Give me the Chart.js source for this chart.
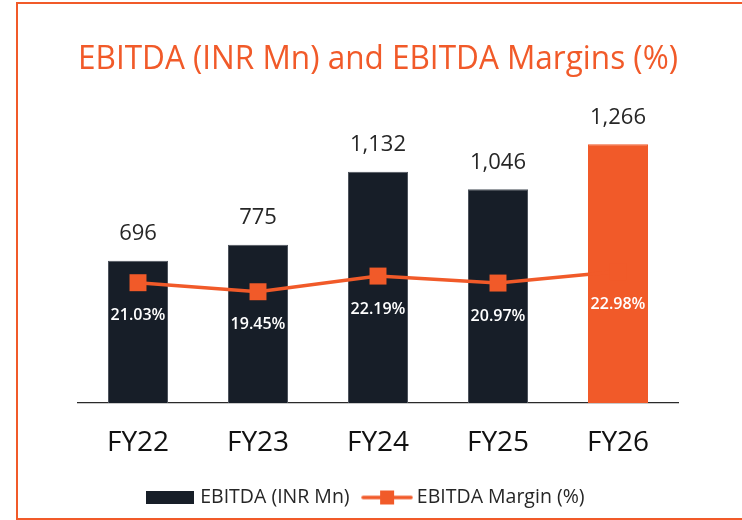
<!DOCTYPE html>
<html>
<head>
<meta charset="utf-8">
<script src="https://cdn.jsdelivr.net/npm/chart.js@4.4.1/dist/chart.umd.min.js"></script>
<style>
    html, body { margin: 0; padding: 0; background: #fff; overflow: hidden; }
    #wrap { position: relative; width: 742px; height: 520px; }
    #frame {
        position: absolute; left: 16px; top: 2px; width: 760px; height: 518px;
        box-sizing: border-box; border: 2px solid #F15A29; border-right: none;
        pointer-events: none;
    }
</style>
</head>
<body>
<div id="wrap">
    <canvas id="ebitdaChart"></canvas>
    <div id="frame"></div>
</div>
<script>
const years = ['FY22', 'FY23', 'FY24', 'FY25', 'FY26'];
const ebitda = [696, 775, 1132, 1046, 1266];
const margins = [21.03, 19.45, 22.19, 20.97, 22.98];

const NAVY = '#171E28';
const ORANGE = '#F15A29';
const barColors = years.map((y, i) => i === years.length - 1 ? ORANGE : NAVY);
const barBorders = years.map((y, i) => i === years.length - 1 ? ORANGE : '#4d535c');

Chart.defaults.font.family = "'Open Sans', sans-serif";
Chart.defaults.color = '#262626';

// small canvases used as legend symbols
function barSymbol() {
    const c = document.createElement('canvas');
    c.width = 48; c.height = 13;
    const g = c.getContext('2d');
    g.fillStyle = NAVY;
    g.fillRect(0, 0, 48, 13);
    return c;
}

function lineSymbol() {
    const c = document.createElement('canvas');
    c.width = 52; c.height = 16;
    const g = c.getContext('2d');
    g.strokeStyle = ORANGE;
    g.lineWidth = 3.5;
    g.lineCap = 'round';
    g.beginPath();
    g.moveTo(2, 8);
    g.lineTo(50, 8);
    g.stroke();
    g.fillStyle = ORANGE;
    g.fillRect(19, 1, 14, 14);
    return c;
}

const valueLabels = {
    id: 'valueLabels',
    afterDatasetsDraw(chart) {
        const ctx = chart.ctx;
        ctx.save();
        ctx.textAlign = 'center';
        ctx.textBaseline = 'middle';

        // EBITDA values above the bars
        ctx.font = "22px 'Open Sans'";
        ctx.fillStyle = '#262626';
        chart.getDatasetMeta(0).data.forEach((bar, i) => {
            ctx.fillText(ebitda[i].toLocaleString('en-US'), bar.x, bar.y - 27);
        });

        // margin percentages under the markers
        ctx.font = "600 16px 'Open Sans'";
        ctx.fillStyle = '#ffffff';
        chart.getDatasetMeta(1).data.forEach((pt, i) => {
            ctx.fillText(margins[i].toFixed(2) + '%', pt.x, pt.y + 33);
        });
        ctx.restore();
    }
};

const ctx = document.getElementById('ebitdaChart').getContext('2d');
new Chart(ctx, {
    type: 'bar',
    data: {
        labels: years,
        datasets: [{
            label: 'EBITDA (INR Mn)',
            data: ebitda,
            backgroundColor: barColors,
            borderColor: barBorders,
            borderWidth: 1,
            categoryPercentage: 1,
            barPercentage: 0.5,
            yAxisID: 'y',
            order: 1
        }, {
            type: 'line',
            label: 'EBITDA Margin (%)',
            data: margins,
            borderColor: ORANGE,
            backgroundColor: ORANGE,
            borderWidth: 3.5,
            tension: 0,
            pointStyle: 'rect',
            pointRadius: 12,
            pointHoverRadius: 12,
            pointBorderWidth: 0,
            yAxisID: 'y2',
            order: 0
        }]
    },
    options: {
        responsive: true,
        maintainAspectRatio: false,
        animation: false,
        layout: {
            padding: { left: 10, right: 17, top: 0, bottom: 2.75 }
        },
        scales: {
            x: {
                grid: { display: false, drawTicks: false },
                border: { display: true, color: '#2a2a2a', width: 1.2 },
                ticks: {
                    padding: 23,
                    color: '#111',
                    font: { size: 28 }
                },
                afterFit: (axis) => { axis.height = 67.25; }
            },
            y: {
                min: 0,
                max: 1400,
                grid: { display: false },
                border: { display: false },
                ticks: { display: false },
                afterFit: (axis) => { axis.width = 68; }
            },
            y2: {
                position: 'right',
                min: 0,
                max: 50,
                grid: { display: false },
                border: { display: false },
                ticks: { display: false },
                afterFit: (axis) => { axis.width = 47; }
            }
        },
        plugins: {
            title: {
                display: true,
                text: 'EBITDA (INR Mn) and EBITDA Margins (%)',
                color: ORANGE,
                fullSize: false,
                font: { size: 32, weight: 'normal' },
                padding: { top: 41, bottom: 37.6 }
            },
            legend: {
                position: 'bottom',
                labels: {
                    usePointStyle: true,
                    pointStyleWidth: 40,
                    padding: 17.5,
                    color: '#262626',
                    font: { size: 19.5 },
                    generateLabels: () => [
                        { text: 'EBITDA (INR Mn)', pointStyle: barSymbol(), fontColor: '#262626', datasetIndex: 0, hidden: false, lineWidth: 0 },
                        { text: 'EBITDA Margin (%)', pointStyle: lineSymbol(), fontColor: '#262626', datasetIndex: 1, hidden: false, lineWidth: 0 }
                    ]
                }
            },
            tooltip: { enabled: false }
        }
    },
    plugins: [valueLabels]
});
</script>
</body>
</html>
